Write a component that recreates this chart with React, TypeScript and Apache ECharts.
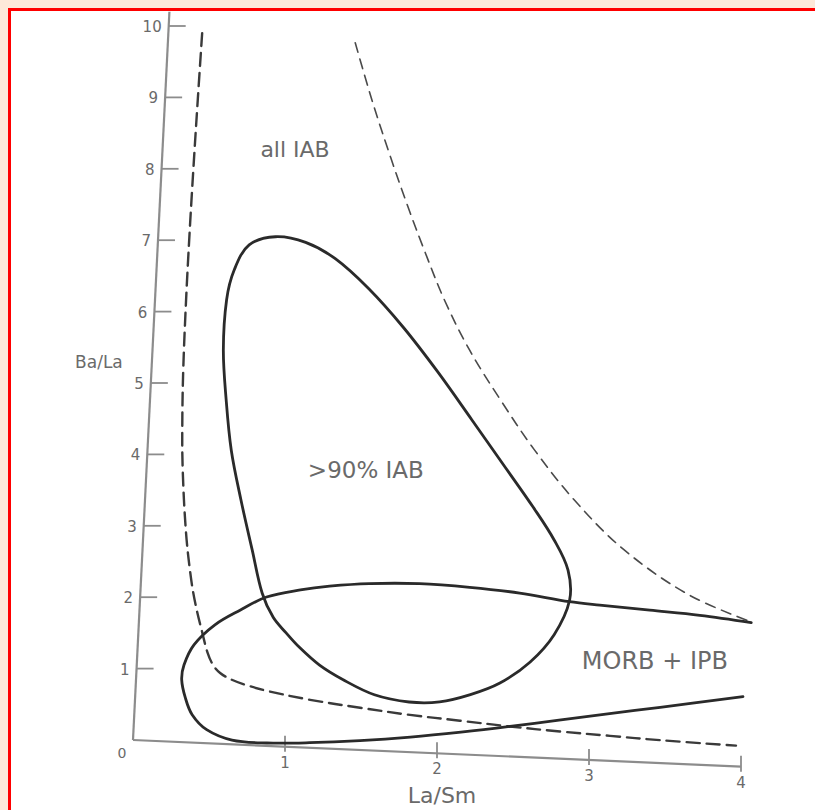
import React, { useEffect, useRef } from "react";
import * as echarts from "echarts";

type Pt = [number, number];

// Axis ticks and titles
const xTicks = [1, 2, 3, 4];
const yTicks = [1, 2, 3, 4, 5, 6, 7, 8, 9, 10];
const xTitle = "La/Sm";
const yTitle = "Ba/La";

// ">90% IAB" field, closed loop (La/Sm, Ba/La)
const iabCore: Pt[] = [
  [0.77, 7.12], [0.6, 6.99], [0.51, 6.63], [0.47, 6.21], [0.465, 5.51], [0.5, 4.81],
  [0.55, 4.11], [0.63, 3.42], [0.72, 2.73], [0.8, 2.13], [0.88, 1.8], [0.97, 1.59],
  [1.06, 1.4], [1.2, 1.16], [1.36, 0.97], [1.57, 0.78], [1.8, 0.7], [2.0, 0.72],
  [2.2, 0.84], [2.39, 1.02], [2.58, 1.33], [2.73, 1.73], [2.82, 2.22], [2.8, 2.64],
  [2.7, 3.05], [2.55, 3.5], [2.35, 4.05], [2.12, 4.68], [1.88, 5.33], [1.64, 5.93],
  [1.4, 6.45], [1.17, 6.85], [0.97, 7.06],
];

// "MORB + IPB" field, open towards La/Sm = 4
const morbIpb: Pt[] = [
  [4.02, 2.02], [3.68, 2.09], [3.35, 2.13], [3.02, 2.17], [2.82, 2.2], [2.49, 2.29],
  [2.16, 2.34], [1.83, 2.36], [1.5, 2.33], [1.24, 2.27], [1.05, 2.2], [0.83, 2.08],
  [0.66, 1.88], [0.5, 1.66], [0.37, 1.37], [0.31, 1.08], [0.3, 0.87], [0.33, 0.62],
  [0.38, 0.39], [0.48, 0.19], [0.65, 0.06], [0.88, 0.04], [1.16, 0.07], [1.49, 0.13],
  [1.82, 0.21], [2.15, 0.31], [2.47, 0.42], [2.79, 0.54], [3.12, 0.66], [3.45, 0.78],
  [3.99, 0.98],
];

// "all IAB" field boundaries (dashed)
const allIabLeft: Pt[] = [
  [0.222, 9.92], [0.215, 8.98], [0.209, 8.04], [0.205, 7.12], [0.204, 6.18], [0.208, 5.24],
  [0.218, 4.54], [0.236, 3.85], [0.28, 2.93], [0.33, 2.27], [0.37, 1.9], [0.42, 1.54],
  [0.46, 1.27], [0.5, 1.1], [0.55, 0.99], [0.62, 0.91], [0.72, 0.84], [0.86, 0.77],
  [1.15, 0.67], [1.48, 0.59], [1.81, 0.52], [2.14, 0.47], [2.47, 0.42], [2.8, 0.38],
  [3.13, 0.35], [3.46, 0.32], [3.96, 0.29],
];
const allIabRight: Pt[] = [
  [1.23, 9.88], [1.36, 9.08], [1.5, 8.3], [1.63, 7.62], [1.75, 7.03], [1.9, 6.34],
  [2.08, 5.66], [2.3, 4.98], [2.54, 4.3], [2.82, 3.62], [3.16, 2.96], [3.6, 2.37],
  [4.02, 2.03],
];

// Field names and where they sit
const fieldNames = ["all IAB", ">90% IAB", "MORB + IPB"];
const fieldAnchors: Pt[] = [[0.87, 8.35], [1.44, 3.92], [3.4, 1.42]];
const fieldFontSizes = [22, 23, 24];

// The printed figure is slightly sheared: the Ba/La axis leans right and the
// La/Sm axis runs downhill. Pixels of drift per pixel along the other axis.
const SHEAR_X = 0.05;
const SHEAR_Y = 0.0438;

const FONT = '"DejaVu Sans", "Liberation Sans", sans-serif';
const AXIS_COLOR = "#8c8c8c";
const TEXT_COLOR = "#6a6a6a";
const LINE_COLOR = "#2a2a2a";

function project(api: any, p: Pt): Pt {
  const o = api.coord([0, 0]);
  const c = api.coord(p);
  return [c[0] + (o[1] - c[1]) * SHEAR_X, c[1] + (c[0] - o[0]) * SHEAR_Y];
}

function curveSeries(name: string, pts: Pt[], closed: boolean, style: any) {
  return {
    type: "custom",
    name,
    coordinateSystem: "cartesian2d",
    silent: true,
    clip: false,
    data: pts,
    renderItem: (params: any, api: any) => {
      if (params.dataIndex !== 0) return null;
      const points = pts.map((p) => project(api, p));
      return {
        type: closed ? "polygon" : "polyline",
        shape: { points, smooth: 0.35 },
        style: { fill: "none", lineCap: "round", lineJoin: "round", ...style },
      };
    },
  };
}

function buildOption() {
  const axesSeries = {
    type: "custom",
    name: "axes",
    coordinateSystem: "cartesian2d",
    silent: true,
    clip: false,
    data: [[0, 0]],
    renderItem: (_params: any, api: any) => {
      const o = project(api, [0, 0]);
      const yTop = project(api, [0, 10.2]);
      const xEnd = project(api, [4, 0]);
      const children: any[] = [
        {
          type: "line",
          shape: { x1: o[0], y1: o[1], x2: yTop[0], y2: yTop[1] },
          style: { stroke: AXIS_COLOR, lineWidth: 2.2 },
        },
        {
          type: "line",
          shape: { x1: o[0], y1: o[1], x2: xEnd[0], y2: xEnd[1] },
          style: { stroke: AXIS_COLOR, lineWidth: 2.2 },
        },
        {
          type: "text",
          x: o[0] - 11,
          y: o[1] + 13,
          style: { text: "0", fill: TEXT_COLOR, font: `14px ${FONT}`, align: "center", verticalAlign: "middle" },
        },
      ];
      yTicks.forEach((t) => {
        const p = project(api, [0, t]);
        children.push({
          type: "line",
          shape: { x1: p[0], y1: p[1], x2: p[0] + 17, y2: p[1] },
          style: { stroke: AXIS_COLOR, lineWidth: 1.8 },
        });
        children.push({
          type: "text",
          x: p[0] - 7,
          y: p[1] + 1,
          style: { text: String(t), fill: TEXT_COLOR, font: `15px ${FONT}`, align: "right", verticalAlign: "middle" },
        });
      });
      xTicks.forEach((t) => {
        const p = project(api, [t, 0]);
        children.push({
          type: "line",
          shape: { x1: p[0], y1: p[1] - 11, x2: p[0], y2: p[1] + 5 },
          style: { stroke: AXIS_COLOR, lineWidth: 1.8 },
        });
        children.push({
          type: "text",
          x: p[0],
          y: p[1] + 16,
          style: { text: String(t), fill: TEXT_COLOR, font: `15px ${FONT}`, align: "center", verticalAlign: "middle" },
        });
      });
      const yt = project(api, [0, 5.3]);
      children.push({
        type: "text",
        x: yt[0] - 53,
        y: yt[1],
        style: { text: yTitle, fill: TEXT_COLOR, font: `17px ${FONT}`, align: "center", verticalAlign: "middle" },
      });
      const xt = project(api, [2, 0]);
      children.push({
        type: "text",
        x: xt[0] + 5,
        y: xt[1] + 42,
        style: { text: xTitle, fill: TEXT_COLOR, font: `22px ${FONT}`, align: "center", verticalAlign: "middle" },
      });
      return { type: "group", children };
    },
  };

  const labelSeries = {
    type: "custom",
    name: "fields",
    coordinateSystem: "cartesian2d",
    silent: true,
    clip: false,
    data: fieldAnchors,
    renderItem: (params: any, api: any) => {
      const i = params.dataIndex;
      const p = project(api, fieldAnchors[i]);
      return {
        type: "text",
        x: p[0],
        y: p[1],
        style: {
          text: fieldNames[i],
          fill: TEXT_COLOR,
          font: `${fieldFontSizes[i]}px ${FONT}`,
          align: "center",
          verticalAlign: "middle",
        },
      };
    },
  };

  return {
    animation: false,
    backgroundColor: "#ffffff",
    grid: { left: 122, top: 15, width: 608, height: 714 },
    xAxis: { type: "value", min: 0, max: 4, show: false },
    yAxis: { type: "value", min: 0, max: 10, show: false },
    series: [
      axesSeries,
      curveSeries("all IAB left", allIabLeft, false, { stroke: "#3a3a3a", lineWidth: 2.4, lineDash: [13, 7] }),
      curveSeries("all IAB right", allIabRight, false, { stroke: "#4a4a4a", lineWidth: 1.6, lineDash: [10, 7] }),
      curveSeries("MORB + IPB", morbIpb, false, { stroke: LINE_COLOR, lineWidth: 2.8 }),
      curveSeries(">90% IAB", iabCore, true, { stroke: LINE_COLOR, lineWidth: 2.8 }),
      labelSeries,
    ],
  };
}

export default function App() {
  const ref = useRef<HTMLDivElement>(null);

  useEffect(() => {
    if (!ref.current) return;
    const chart = echarts.init(ref.current, undefined, { renderer: "svg" });
    chart.setOption(buildOption() as any);
    return () => chart.dispose();
  }, []);

  return (
    <div style={{ position: "fixed", inset: 0, background: "#fde9d9" }}>
      <div
        style={{
          position: "fixed",
          left: 8,
          top: 8,
          right: 0,
          bottom: 0,
          borderLeft: "3px solid #ff0000",
          borderTop: "3px solid #ff0000",
          background: "#ffffff",
          overflow: "hidden",
        }}
      >
        <div ref={ref} style={{ position: "absolute", left: 0, top: 0, width: 804, height: 799 }} />
      </div>
    </div>
  );
}
